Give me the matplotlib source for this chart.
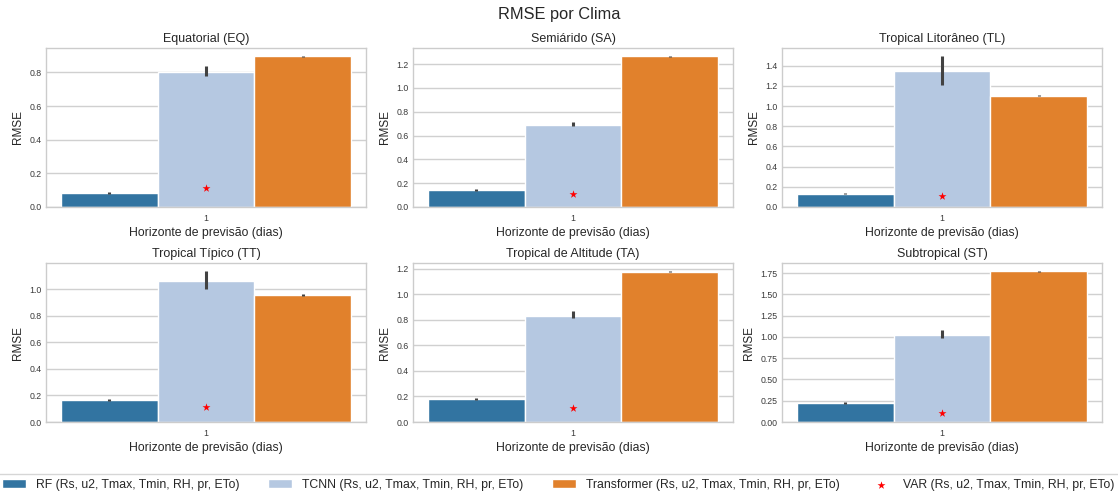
import matplotlib
matplotlib.use("Agg")
import matplotlib.pyplot as plt
import seaborn as sns
import numpy as np

sns.set_theme(style="whitegrid")
plt.rcParams["font.family"] = ["Liberation Sans", "DejaVu Sans"]

# RMSE per climate region, horizon = 1 day
climates = ["Equatorial (EQ)", "Semiárido (SA)", "Tropical Litorâneo (TL)",
            "Tropical Típico (TT)", "Tropical de Altitude (TA)", "Subtropical (ST)"]
models = ["RF (Rs, u2, Tmax, Tmin, RH, pr, ETo)",
          "TCNN (Rs, u2, Tmax, Tmin, RH, pr, ETo)",
          "Transformer (Rs, u2, Tmax, Tmin, RH, pr, ETo)"]
var_label = "VAR (Rs, u2, Tmax, Tmin, RH, pr, ETo)"
horizon_labels = ["1"]

rf_mean = [0.085, 0.140, 0.130, 0.165, 0.180, 0.220]
rf_low = [0.080, 0.135, 0.125, 0.160, 0.175, 0.215]
rf_high = [0.090, 0.148, 0.140, 0.175, 0.190, 0.230]

tcnn_mean = [0.805, 0.690, 1.350, 1.065, 0.830, 1.020]
tcnn_low = [0.780, 0.680, 1.210, 1.000, 0.810, 0.990]
tcnn_high = [0.840, 0.715, 1.500, 1.140, 0.865, 1.080]

trf_mean = [0.895, 1.265, 1.100, 0.955, 1.175, 1.770]
trf_low = [0.890, 1.260, 1.095, 0.950, 1.170, 1.765]
trf_high = [0.900, 1.272, 1.110, 0.962, 1.185, 1.780]

var_rmse = [0.110, 0.110, 0.110, 0.110, 0.110, 0.110]

colors = ["#3274a1", "#b5c8e1", "#e1812c"]
err_color = "#424242"

fig = plt.figure(figsize=(11.18, 4.95), dpi=100)
W, H = 1118.0, 495.0
lefts = [46, 413, 782]
widths = [320, 320, 320]
tops = [48, 263]
height = 159

axes = []
for r in range(2):
    for c in range(3):
        ax = fig.add_axes([lefts[c] / W, 1 - (tops[r] + height) / H,
                           widths[c] / W, height / H])
        axes.append(ax)

bw = 0.8 / 3
offsets = [-bw, 0.0, bw]
series = [(rf_mean, rf_low, rf_high), (tcnn_mean, tcnn_low, tcnn_high),
          (trf_mean, trf_low, trf_high)]

handles = []
for i, ax in enumerate(axes):
    for k, (m, lo, hi) in enumerate(series):
        b = ax.bar(offsets[k], m[i], width=bw, color=colors[k],
                   edgecolor="white", linewidth=1.0, label=models[k], zorder=2)
        ax.plot([offsets[k], offsets[k]], [lo[i], hi[i]], color=err_color,
                lw=2.2, solid_capstyle="butt", zorder=3)
        if i == 0:
            handles.append(b)
    s = ax.scatter([0.0], [var_rmse[i]], marker="*", color="red", s=36,
                   zorder=4, label=var_label, linewidths=0)
    if i == 0:
        handles.append(s)
    ax.set_xlim(-0.442, 0.442)
    top = max(max(m[i], hi[i]) for m, lo, hi in series)
    ax.set_ylim(0, top * 1.05)
    ax.set_xticks([0.0])
    ax.set_xticklabels(horizon_labels)
    ax.set_title(climates[i], fontsize=9, pad=4)
    ax.set_xlabel("Horizonte de previsão (dias)", fontsize=8.8, labelpad=3)
    ax.set_ylabel("RMSE", fontsize=8.5, labelpad=4)
    ax.tick_params(axis="both", labelsize=6.3, length=0, labelcolor="#3a3a3a")
    ax.tick_params(axis="x", pad=5)
    ax.tick_params(axis="y", pad=3)
    ax.grid(axis="x", visible=False)
    ax.grid(axis="y", color="#d0d0d0", lw=1.0)
    for sp in ax.spines.values():
        sp.set_color("#cccccc")
        sp.set_linewidth(1.0)

fig.suptitle("RMSE por Clima", fontsize=11.8, y=1 - 7 / H, va="top")

leg = fig.legend(handles, models + [var_label], loc="upper left",
                 bbox_to_anchor=(-0.003, 0, 1.004, 21 / H), mode="expand",
                 ncol=4, fontsize=8.8, frameon=True, borderaxespad=0,
                 handlelength=2.0, scatterpoints=1)
leg.get_frame().set_edgecolor("#cccccc")

fig.savefig("out.png", dpi=100)
